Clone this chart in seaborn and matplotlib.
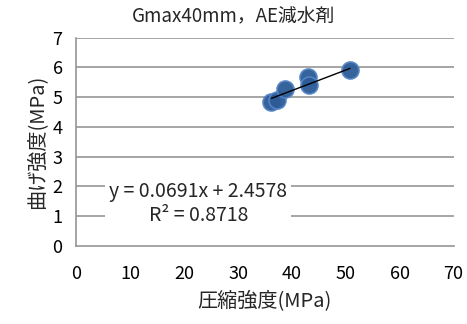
import matplotlib
matplotlib.use("Agg")
import matplotlib.pyplot as plt
import numpy as np
import pandas as pd
import seaborn as sns

# Compressive vs. flexural strength (Gmax 40 mm, AE water reducer)
compressive = [36.2, 37.2, 38.7, 42.9, 43.2, 50.8]
flexural = [4.85, 4.92, 5.28, 5.69, 5.40, 5.92]

# Linear trendline as reported
slope = 0.0691
intercept = 2.4578
r_squared = 0.8718

x_ticks = [0, 10, 20, 30, 40, 50, 60, 70]
y_ticks = [0, 1, 2, 3, 4, 5, 6, 7]

title = "Gmax40mm，AE減水剤"
x_label = "圧縮強度(MPa)"
y_label = "曲げ強度(MPa)"

sns.set_style("white")
plt.rcParams["font.family"] = ["Noto Sans CJK JP", "DejaVu Sans"]

df = pd.DataFrame({"x": compressive, "y": flexural})

fig = plt.figure(figsize=(4.67, 3.24), dpi=100)
ax = fig.add_axes([0.1638, 0.2417, 0.8073, 0.6419])

grid_color = "#969696"
ax.set_xlim(x_ticks[0], x_ticks[-1])
ax.set_ylim(y_ticks[0], y_ticks[-1])
ax.set_xticks(x_ticks)
ax.set_yticks(y_ticks)
for yv in y_ticks[1:]:
    ax.axhline(yv, color=grid_color, lw=1.2, zorder=0)

sns.scatterplot(data=df, x="x", y="y", ax=ax, s=150, color="#2c5b98",
                edgecolor="#5585c6", linewidth=1.2, alpha=0.95, zorder=3,
                legend=False)

xs = np.array([min(compressive), max(compressive)])
trend = pd.DataFrame({"x": xs, "y": slope * xs + intercept})
sns.lineplot(data=trend, x="x", y="y", ax=ax, color="black", lw=1.0, zorder=4)

for side in ["top", "right"]:
    ax.spines[side].set_visible(False)
for side in ["left", "bottom"]:
    ax.spines[side].set_color(grid_color)
    ax.spines[side].set_linewidth(1.2)

ax.tick_params(axis="both", direction="out", length=5, width=1.2,
               color=grid_color, labelsize=13, labelcolor="black")
ax.tick_params(axis="x", pad=9)
ax.tick_params(axis="y", pad=5)
ax.set_xlabel(x_label, fontsize=14.5, labelpad=5)
ax.set_ylabel(y_label, fontsize=14.5, labelpad=4)

ax.text(22.6, 1.42, f"y = {slope}x + {intercept}\nR² = {r_squared}",
        ha="center", va="center", fontsize=14, linespacing=1.2,
        bbox=dict(boxstyle="square,pad=0.2", facecolor="white",
                  edgecolor="none"), zorder=5)

fig.text(0.5, 0.948, title, ha="center", va="center", fontsize=13.5)

fig.savefig("out.png", dpi=100)
